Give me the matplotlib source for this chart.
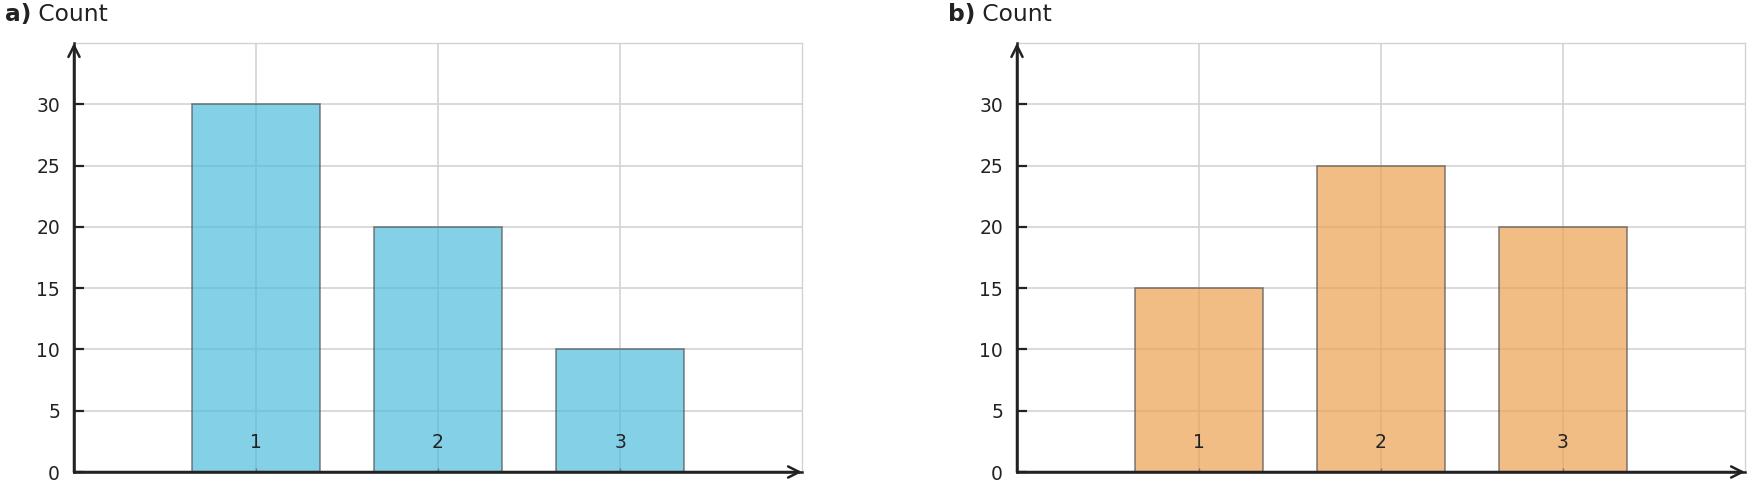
import numpy as np
import matplotlib
matplotlib.use("Agg")
import matplotlib.pyplot as plt

# --- DATA ---
categories = [1, 2, 3]
counts_a = [30, 20, 10]
counts_b = [15, 25, 20]
panel_labels = ["a)", "b)"]
yticks = [0, 5, 10, 15, 20, 25, 30]

# --- STYLE ---
TEXT = "#222222"
GRID = "#d3d3d3"
COLORS = ["#4FBCDE", "#ECA151"]

plt.rcParams["font.family"] = ["DejaVu Sans"]


def draw_panel(ax, values, color, label):
    ax.set_xlim(0, 4)
    ax.set_ylim(0, 35)

    # grid drawn by hand so it sits below the bars while tick labels stay on top
    for y in yticks:
        ax.axhline(y, color=GRID, linewidth=1.2, zorder=0.4)
    for x in categories:
        ax.axvline(x, color=GRID, linewidth=1.2, zorder=0.4)

    ax.bar(categories, values, width=0.7, color=color, alpha=0.7,
           edgecolor="#555555", linewidth=1.2, zorder=1)
    ax.xaxis.set_zorder(3)
    ax.yaxis.set_zorder(3)

    ax.set_xticks(categories)
    ax.set_xticklabels([str(c) for c in categories])
    ax.set_yticks(yticks)

    ax.tick_params(axis="y", direction="in", length=7, width=1.6,
                   colors=TEXT, labelsize=13.5, pad=10)
    ax.tick_params(axis="x", direction="in", length=3, width=1.0,
                   color="#777777", labelcolor=TEXT, labelsize=13.5, pad=-28)

    for side in ("top", "right"):
        ax.spines[side].set_color(GRID)
        ax.spines[side].set_linewidth(1.0)
    for side in ("left", "bottom"):
        ax.spines[side].set_color(TEXT)
        ax.spines[side].set_linewidth(1.8)
        ax.spines[side].set_zorder(3)

    # arrow heads on the two main axes
    arrow = dict(arrowstyle="->", color=TEXT, lw=1.8, mutation_scale=20,
                 shrinkA=0, shrinkB=0)
    ax.annotate("", xy=(1.0, 0), xytext=(0, 0), xycoords="axes fraction",
                textcoords="axes fraction", arrowprops=arrow,
                annotation_clip=False, zorder=4)
    ax.annotate("", xy=(0, 1.0), xytext=(0, 0), xycoords="axes fraction",
                textcoords="axes fraction", arrowprops=arrow,
                annotation_clip=False, zorder=4)

    # panel title: bold letter + regular word
    t = ax.text(-69 / 728, 1.0513, label, transform=ax.transAxes,
                fontsize=16.8, fontweight="bold", color=TEXT,
                ha="left", va="baseline")
    ax.annotate(" Count", xy=(1, 0), xycoords=t, fontsize=16.8, color=TEXT,
                ha="left", va="bottom")


fig = plt.figure(figsize=(17.5, 4.86), dpi=100)
ax_a = fig.add_axes([74 / 1750, 14 / 486, 728 / 1750, 429 / 486])
ax_b = fig.add_axes([1017 / 1750, 14 / 486, 728 / 1750, 429 / 486])

draw_panel(ax_a, counts_a, COLORS[0], panel_labels[0])
draw_panel(ax_b, counts_b, COLORS[1], panel_labels[1])

fig.savefig("out.png", dpi=100)
